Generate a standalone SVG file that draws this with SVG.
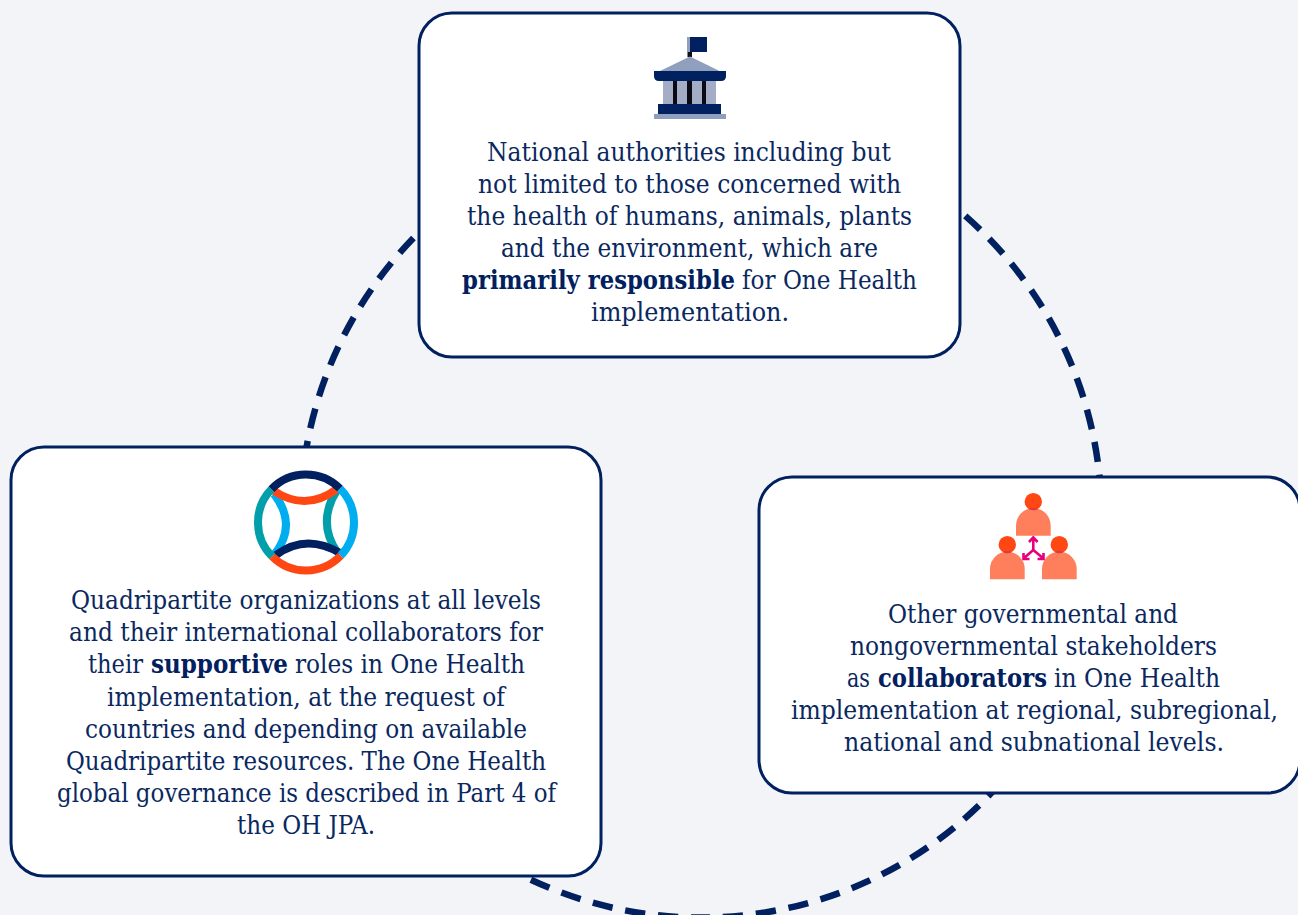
<svg xmlns="http://www.w3.org/2000/svg" width="1298" height="915" viewBox="0 0 1298 915">
<style>
.box{fill:#fff;stroke:#002060;stroke-width:3}
.t{font-family:"DejaVu Serif Condensed","DejaVu Serif","Liberation Serif",serif;font-size:26px;fill:#0a2860}
.b{font-weight:700;fill:#002060}
.ln{fill:none;stroke-width:8}
</style>
<rect width="1298" height="915" fill="#f2f4f8"/>
<g id="connectors">
<circle cx="701" cy="517" r="400.6" transform="rotate(90 701 517)" fill="none" stroke="#002060" stroke-width="6.5" stroke-dasharray="20.2 12.919" stroke-dashoffset="10.1"/>
</g>
<g id="node-national">
<rect class="box" x="419" y="13" width="541" height="344" rx="33"/>
<rect x="687" y="37" width="3" height="15" fill="#8f9fbd"/>
<rect x="690" y="37" width="17" height="15" fill="#002060"/>
<rect x="687.5" y="52" width="4.5" height="5" fill="#111"/>
<path d="M690,56.5 L660,71 H719.5 Z" fill="#8f9fbd"/>
<rect x="663" y="80" width="53" height="24" fill="#a3aec6"/>
<rect x="673" y="80" width="4" height="24" fill="#0a0a14"/>
<rect x="687" y="80" width="5" height="24" fill="#0a0a14"/>
<rect x="702" y="80" width="4" height="24" fill="#0a0a14"/>
<path d="M654,71 H726 V76 Q726,81 721,81 H659 Q654,81 654,76 Z" fill="#002060"/>
<rect x="658" y="104" width="63" height="10" fill="#002060"/>
<rect x="654" y="114" width="72" height="5" fill="#8f9fbd"/>
<text class="t" x="487" y="161" textLength="404" lengthAdjust="spacingAndGlyphs">National authorities including but</text>
<text class="t" x="478" y="193" textLength="423" lengthAdjust="spacingAndGlyphs">not limited to those concerned with</text>
<text class="t" x="467" y="225" textLength="445" lengthAdjust="spacingAndGlyphs">the health of humans, animals, plants</text>
<text class="t" x="501" y="257" textLength="377" lengthAdjust="spacingAndGlyphs">and the environment, which are</text>
<text class="t b" x="462" y="289" textLength="273" lengthAdjust="spacingAndGlyphs">primarily responsible</text>
<text class="t" x="742" y="289" textLength="175" lengthAdjust="spacingAndGlyphs">for One Health</text>
<text class="t" x="591" y="321" textLength="198" lengthAdjust="spacingAndGlyphs">implementation.</text>
</g>
<g id="node-quadripartite">
<rect class="box" x="11" y="447" width="590" height="429" rx="33"/>
<path class="ln" stroke="#00aeef" d="M274,494 Q298,525 274,555"/>
<path class="ln" stroke="#009fa9" d="M337,490 Q316.7,522 337,552"/>
<path class="ln" stroke="#ff4713" d="M274,491 Q306,512 337,489"/>
<path class="ln" stroke="#002060" d="M276,555 Q306,533 340,553"/>
<path class="ln" stroke="#009fa9" d="M271.4,489.2 A48,48 0 0 0 272.1,556.5"/>
<path class="ln" stroke="#00aeef" d="M339.9,488.5 A48,48 0 0 1 340.6,555.8"/>
<path class="ln" stroke="#002060" d="M271.4,489.2 A48,48 0 0 1 339.9,488.5"/>
<path class="ln" stroke="#ff4713" d="M340.6,555.8 A48,48 0 0 1 272.1,556.5"/>
<text class="t" x="71" y="609" textLength="470" lengthAdjust="spacingAndGlyphs">Quadripartite organizations at all levels</text>
<text class="t" x="69" y="641" textLength="474" lengthAdjust="spacingAndGlyphs">and their international collaborators for</text>
<text class="t" x="88" y="673" textLength="55" lengthAdjust="spacingAndGlyphs">their</text>
<text class="t b" x="151" y="673" textLength="137" lengthAdjust="spacingAndGlyphs">supportive</text>
<text class="t" x="295" y="673" textLength="230" lengthAdjust="spacingAndGlyphs">roles in One Health</text>
<text class="t" x="107" y="705.5" textLength="398" lengthAdjust="spacingAndGlyphs">implementation, at the request of</text>
<text class="t" x="85" y="737.5" textLength="442" lengthAdjust="spacingAndGlyphs">countries and depending on available</text>
<text class="t" x="66" y="769.5" textLength="480" lengthAdjust="spacingAndGlyphs">Quadripartite resources. The One Health</text>
<text class="t" x="57" y="801.5" textLength="499" lengthAdjust="spacingAndGlyphs">global governance is described in Part 4 of</text>
<text class="t" x="237" y="833.5" textLength="138" lengthAdjust="spacingAndGlyphs">the OH JPA.</text>
</g>
<g id="node-stakeholders">
<rect class="box" x="759" y="477" width="541" height="316" rx="33"/>
<g fill="#ff7f5c">
<path d="M1016,535.7 V525.6 A17.35,17.35 0 0 1 1050.7,525.6 V535.7 Z"/>
<path d="M990,579.3 V569 A17.35,17.35 0 0 1 1024.7,569 V579.3 Z"/>
<path d="M1042,579.3 V569 A17.35,17.35 0 0 1 1076.7,569 V579.3 Z"/>
</g>
<g fill="#ff4713">
<circle cx="1033.3" cy="501.7" r="8.7"/>
<circle cx="1007.3" cy="544.7" r="8.7"/>
<circle cx="1059.3" cy="544.7" r="8.7"/>
</g>
<path d="M1029.8,509 H1036.8 M1003.8,552 H1010.8 M1055.8,552 H1062.8" fill="none" stroke="#b4307e" stroke-width="1"/>
<path d="M1033.3,550 V538 M1033.3,550 L1023.5,558.5 M1033.3,550 L1043.5,558.5 M1029,542 L1033.3,537.5 L1037.6,542 M1023.5,553 V559 H1029.5 M1043.5,553 V559 H1037.5" fill="none" stroke="#e6007e" stroke-width="2.6"/>
<text class="t" x="888" y="623" textLength="290" lengthAdjust="spacingAndGlyphs">Other governmental and</text>
<text class="t" x="850" y="655" textLength="367" lengthAdjust="spacingAndGlyphs">nongovernmental stakeholders</text>
<text class="t" x="847" y="687" textLength="23" lengthAdjust="spacingAndGlyphs">as</text>
<text class="t b" x="878" y="687" textLength="169" lengthAdjust="spacingAndGlyphs">collaborators</text>
<text class="t" x="1054" y="687" textLength="166" lengthAdjust="spacingAndGlyphs">in One Health</text>
<text class="t" x="791" y="719" textLength="487" lengthAdjust="spacingAndGlyphs">implementation at regional, subregional,</text>
<text class="t" x="844" y="751" textLength="380" lengthAdjust="spacingAndGlyphs">national and subnational levels.</text>
</g>
</svg>
